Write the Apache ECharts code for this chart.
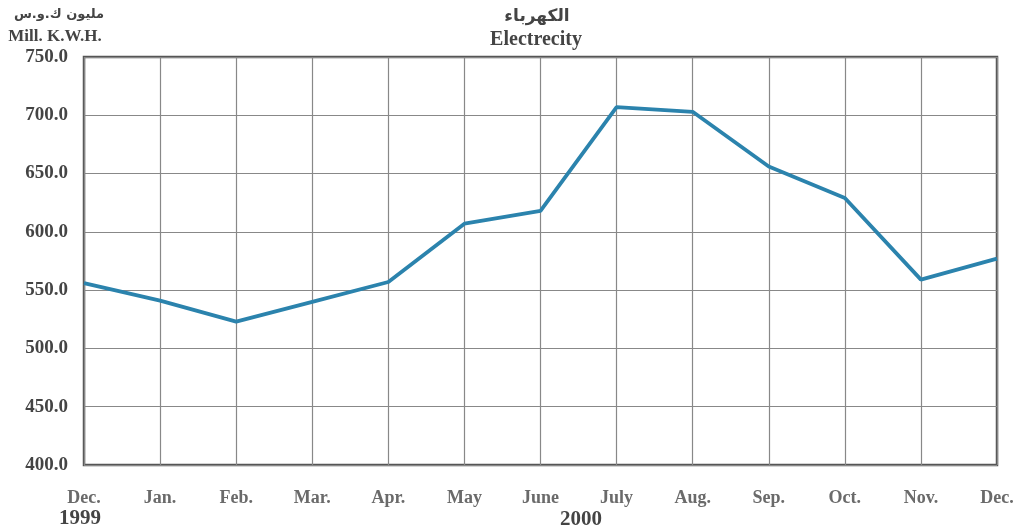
<!DOCTYPE html>
<html>
<head>
<meta charset="utf-8">
<script src="https://cdn.jsdelivr.net/npm/echarts@6/dist/echarts.min.js"></script>
<style>
html,body{margin:0;padding:0;background:#fff;}
#chart{width:1026px;height:530px;}
</style>
</head>
<body>
<div id="chart"></div>
<script>
const categories = ['Dec.', 'Jan.', 'Feb.', 'Mar.', 'Apr.', 'May', 'June', 'July', 'Aug.', 'Sep.', 'Oct.', 'Nov.', 'Dec.'];
const electricity = [556, 541, 523, 540, 557, 607, 618, 707, 703, 656, 629, 559, 577];
const yTicks = { min: 400, max: 750, interval: 50 };
const titleAr = 'الكهرباء';
const titleEn = 'Electrecity';
const unitAr = 'مليون ك.و.س';
const unitEn = 'Mill. K.W.H.';
const yearStart = '1999';
const yearMid = '2000';

const serif = '"Liberation Serif", "DejaVu Serif", serif';
const chart = echarts.init(document.getElementById('chart'));
chart.setOption({
  animation: false,
  backgroundColor: '#fff',
  grid: { left: 84, right: 29, top: 57, bottom: 65, show: true, borderColor: '#555', borderWidth: 2.5, backgroundColor: 'transparent' },
  xAxis: {
    type: 'category',
    data: categories,
    boundaryGap: false,
    axisLine: { show: false },
    axisTick: { show: false },
    splitLine: { show: true, lineStyle: { color: '#888', width: 1.2 } },
    axisLabel: { color: '#6a6a6a', fontFamily: serif, fontSize: 18, fontWeight: 'bold', margin: 24, interval: 0 }
  },
  yAxis: {
    type: 'value',
    min: yTicks.min, max: yTicks.max, interval: yTicks.interval,
    axisLine: { show: false },
    axisTick: { show: false },
    splitLine: { show: true, lineStyle: { color: '#888', width: 1.2 } },
    axisLabel: { color: '#444', fontFamily: serif, fontSize: 19, fontWeight: 'bold', margin: 16, formatter: v => v.toFixed(1) }
  },
  series: [{
    type: 'line',
    data: electricity,
    symbol: 'none',
    lineStyle: { color: '#2b83ad', width: 3.8 },
    z: 5
  }],
  graphic: [
    { type: 'text', x: 537, y: 8, style: { text: titleAr, textAlign: 'center', font: 'bold 17px "DejaVu Sans", sans-serif', fill: '#444' } },
    { type: 'text', x: 536, y: 30, style: { text: titleEn, textAlign: 'center', font: 'bold 20px ' + serif, fill: '#444' } },
    { type: 'text', x: 59, y: 8, style: { text: unitAr, textAlign: 'center', font: 'bold 13px "DejaVu Sans", sans-serif', fill: '#444' } },
    { type: 'text', x: 55, y: 28, style: { text: unitEn, textAlign: 'center', font: 'bold 17px ' + serif, fill: '#444' } },
    { type: 'text', x: 80, y: 508, style: { text: yearStart, textAlign: 'center', font: 'bold 21px ' + serif, fill: '#444' } },
    { type: 'text', x: 581, y: 509, style: { text: yearMid, textAlign: 'center', font: 'bold 21px ' + serif, fill: '#444' } }
  ]
});
</script>
</body>
</html>
